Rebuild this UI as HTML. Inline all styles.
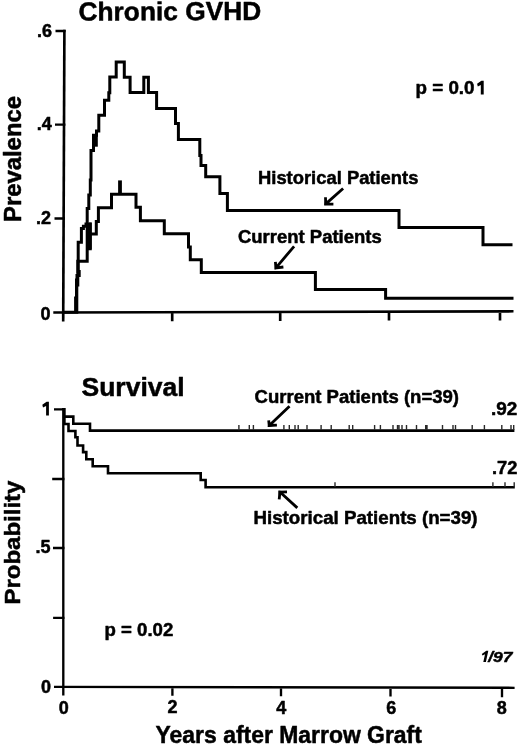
<!DOCTYPE html>
<html>
<head>
<meta charset="utf-8">
<style>
html,body{margin:0;padding:0;background:#fff;}
body{width:520px;height:748px;overflow:hidden;}
svg{display:block;filter:grayscale(1);}
text{font-family:"Liberation Sans",sans-serif;font-weight:bold;fill:#000;stroke:#000;stroke-width:0.5px;stroke-linejoin:round;}
.ln{fill:none;stroke:#000;stroke-width:3;stroke-linejoin:miter;stroke-linecap:butt;}
.ax{fill:none;stroke:#000;stroke-width:2.65;stroke-linecap:butt;}
.ln2{fill:none;stroke:#000;stroke-width:2.6;stroke-linejoin:miter;stroke-linecap:butt;}
.ax2{fill:none;stroke:#000;stroke-width:2.35;stroke-linecap:butt;}
.arr{fill:none;stroke:#000;stroke-width:2.8;stroke-linejoin:miter;stroke-miterlimit:10;stroke-linecap:butt;}
.ck{fill:none;stroke:#2a2a2a;stroke-width:1.4;}
</style>
</head>
<body>
<svg width="520" height="748" viewBox="0 0 520 748">
<!-- ===== TOP PANEL: Chronic GVHD ===== -->
<text x="78.5" y="20.6" transform="rotate(-0.25 78.5 20.6)" font-size="26" textLength="182.8" lengthAdjust="spacingAndGlyphs">Chronic GVHD</text>
<text transform="translate(20.5,222) rotate(-90)" x="0" y="0" font-size="23" textLength="126" lengthAdjust="spacingAndGlyphs">Prevalence</text>
<!-- y tick labels -->
<text x="52" y="37" font-size="18" text-anchor="end">.6</text>
<text x="51.8" y="129.6" font-size="18" text-anchor="end">.4</text>
<text x="51" y="223.6" font-size="18" text-anchor="end">.2</text>
<text x="50.6" y="319.6" font-size="18" text-anchor="end">0</text>
<!-- axes -->
<path class="ax" d="M64.4,29.7 L63.2,321.4"/>
<path class="ax" style="stroke-width:2.4" d="M55.5,31 H65.6 M55,124.6 H65.4 M54.5,218.5 H65"/>
<path class="ax" d="M53.3,312.5 L513.5,311.3 M172.2,312.3 V321.3 M280.2,312 V321 M389,311.7 V320.6 M500,311.4 V320.4"/>
<!-- historical curve (top) -->
<path class="ln" d="M63.3,312.3 H76.8 V285 H77.8 V261.2 H87.2 V208.5 H88.8 V195 H90.3 V180 H91 V150.4 H93.5 V135.3 H96.5 V130.9 H98.8 V115.2 H104.5 V100.2 H108.8 V92.7 H109.8 V77.1 H116.2 V62 H124.3 V77.3 H130.1 V92.5 H143.8 V77.3 H148.4 V92.4 H156.6 V108.5 H175.5 V123.6 H178.4 V139.6 H199.8 V155.5 H201 V165.6 H205.7 V176.8 H219.9 V193.5 H227.4 V210.4 H399 V227.5 H483 V244.8 H512.5"/>
<path class="ln" d="M96.3,146.7 V135.3"/>
<path class="ln" d="M87.2,248.7 H90.3 V222.6"/><rect x="86.6" y="222.6" width="5" height="26.4" fill="#000"/>
<!-- current curve (top) -->
<path class="ln" d="M75.6,312.3 V298 H76.5 V280 H77 V275.4 H79.2 V271.4 H78.2 V242.3 H81.4 V228.4 H83.4 V226.3 H86 V224 H88"/>
<path class="ln" d="M90.5,234 H96.3 V221.4 H98.4 V207.8 H111.5 V194.2 H136 V207.3 H140.4 V220.8 H164.3 V233.7 H188.5 V247 H190.3 V259.8 H201.3 V272.6 H315.4 V289.6 H385.6 V298.2 H513.5"/>
<path class="ln" d="M120,194.2 V180.4" style="stroke-width:3.8"/>
<!-- labels top -->
<text x="415.5" y="93.8" font-size="18" textLength="59" lengthAdjust="spacingAndGlyphs">p = 0.0</text>
<path d="M-2.3,-13.7 H0 V0 H-2.9 V-9.4 L-5.9,-8 L-6.6,-10.6 Z" transform="translate(483.7,94.4)" fill="#000"/>
<text x="258" y="183.6" font-size="18" textLength="160.4" lengthAdjust="spacingAndGlyphs">Historical Patients</text>
<text x="238" y="243.2" font-size="18" textLength="143.7" lengthAdjust="spacingAndGlyphs">Current Patients</text>
<!-- arrows top -->
<path class="arr" d="M343.1,188.5 L327.2,202.6 M325.5,197.2 L325.7,204.0 L333.4,204.1"/>
<path d="M324.2,205.3 L325.0,200.6 L328.7,201.3 L329.5,204.6 Z" fill="#000"/>
<path class="arr" d="M294.1,246.3 L277.2,266.3 M275.4,261.9 L275.9,267.9 L283.4,267.0"/>
<path d="M274.6,269.4 L275.0,265.1 L278.5,264.8 L279.7,268.0 Z" fill="#000"/>

<!-- ===== BOTTOM PANEL: Survival ===== -->
<text x="81.5" y="396" font-size="26.5">Survival</text>
<text transform="translate(19.6,604.5) rotate(-90)" x="0" y="0" font-size="22.8" textLength="123.9" lengthAdjust="spacingAndGlyphs">Probability</text>
<path d="M-2.3,-13.7 H0 V0 H-2.8 V-9.4 L-5.9,-7.9 L-6.6,-10.6 Z" transform="translate(48.9,415.4)" fill="#000"/>
<text x="50.6" y="553.3" font-size="18" text-anchor="end">.5</text>
<text x="50.9" y="692.6" font-size="18" text-anchor="end">0</text>
<!-- axes -->
<path class="ax2" d="M63.3,408 V695.4 M54,409.4 H64.7 M52.2,479 H64.7 M53,548 H64.7 M53.1,617.9 H64.7"/>
<path class="ax2" d="M54,686.8 L514.6,687.8 M172.4,687 V695.7 M281,687.2 V696.2 M390.5,687.5 V696.6 M502,687.8 V697.2"/>
<text x="63.8" y="713.6" font-size="18" text-anchor="middle">0</text>
<text x="172.4" y="712.8" font-size="18" text-anchor="middle">2</text>
<text x="281.2" y="713.8" font-size="18" text-anchor="middle">4</text>
<text x="391.3" y="713.5" font-size="18" text-anchor="middle">6</text>
<text x="501.8" y="714.3" font-size="18" text-anchor="middle">8</text>
<text x="155.6" y="742.7" font-size="23.2" textLength="266.3" lengthAdjust="spacingAndGlyphs">Years after Marrow Graft</text>
<!-- current survival -->
<path class="ln2" d="M63.4,409.4 H64.4 V416.6 H73.3 V423.7 H90 V430.6 H514.4"/>
<!-- historical survival -->
<path class="ln2" d="M64.4,416 V424 H68.5 V431 H75.4 V437.2 H77.5 V445.5 H83.1 V452.1 H86.3 V459.3 H92.7 V466.2 H108 V473.3 H200.7 V480 H205.6 V487.2 H514.8"/>
<!-- censor ticks current -->
<path class="ck" d="M238.9,430.2 V425.1 M249.3,430 V425.1 M253.4,430 V425.1 M283.9,430 V425.1 M289.3,430 V425.1 M295,430 V425.1 M298.2,430 V425.1 M307,430 V425.1 M321.1,430 V425.1 M331.2,430 V425.1 M349.2,430 V425.1 M352.7,430 V425.1 M374.6,430 V425.1 M380.4,430 V425.1 M393,430 V425.1 M397.5,430 V425.1 M399,430 V425.1 M402,430 V425.1 M406.5,430 V425.1 M416.5,430 V425.1 M425.7,430 V425.1 M427,430 V425.1 M442.5,430 V425.1 M453,430 V425.1 M455.5,430 V425.1 M472.2,430 V425.1 M484.4,430 V425.1 M501.8,430 V425.1 M511,430 V425.1 M513.7,430 V425.1"/>
<!-- censor ticks historical -->
<path class="ck" d="M335,487 V482.3 M492.9,487 V482.3 M505,487 V482.3 M514.2,487 V482.3"/>
<!-- labels bottom -->
<text x="254.5" y="402.5" font-size="18.5" textLength="204.5" lengthAdjust="spacingAndGlyphs">Current Patients (n=39)</text>
<text x="253.5" y="524.2" font-size="18.5" textLength="224.1" lengthAdjust="spacingAndGlyphs">Historical Patients (n=39)</text>
<text x="491" y="415.2" font-size="18" textLength="26.3" lengthAdjust="spacingAndGlyphs">.92</text>
<text x="492" y="474.3" font-size="18" textLength="25.4" lengthAdjust="spacingAndGlyphs">.72</text>
<text x="104.5" y="635.8" font-size="18" textLength="68.8" lengthAdjust="spacingAndGlyphs">p = 0.02</text>
<path d="M483.3,661.9 H485.9 L488.3,650.8 H486.3 L481.8,653.9 L482.5,655.6 L485,654.3 Z" fill="#000"/>
<text x="488.2" y="661.6" font-size="15.2" font-style="italic" textLength="24.2" lengthAdjust="spacingAndGlyphs">/97</text>
<!-- arrows bottom -->
<path class="arr" d="M289.5,406.3 L270.6,424.2 M268.7,420.4 L269.2,425.5 L276.9,425.1"/>
<path d="M267.7,426.9 L268.3,423.1 L272.1,422.8 L273.0,425.9 Z" fill="#000"/>
<path class="arr" d="M297.3,507.9 L281.3,493.3 M279.2,499.3 L279.9,492.0 L287.0,491.8"/>
<path d="M278.4,490.6 L278.8,495.6 L282.8,494.7 L283.3,491.3 Z" fill="#000"/>
</svg>
</body>
</html>
